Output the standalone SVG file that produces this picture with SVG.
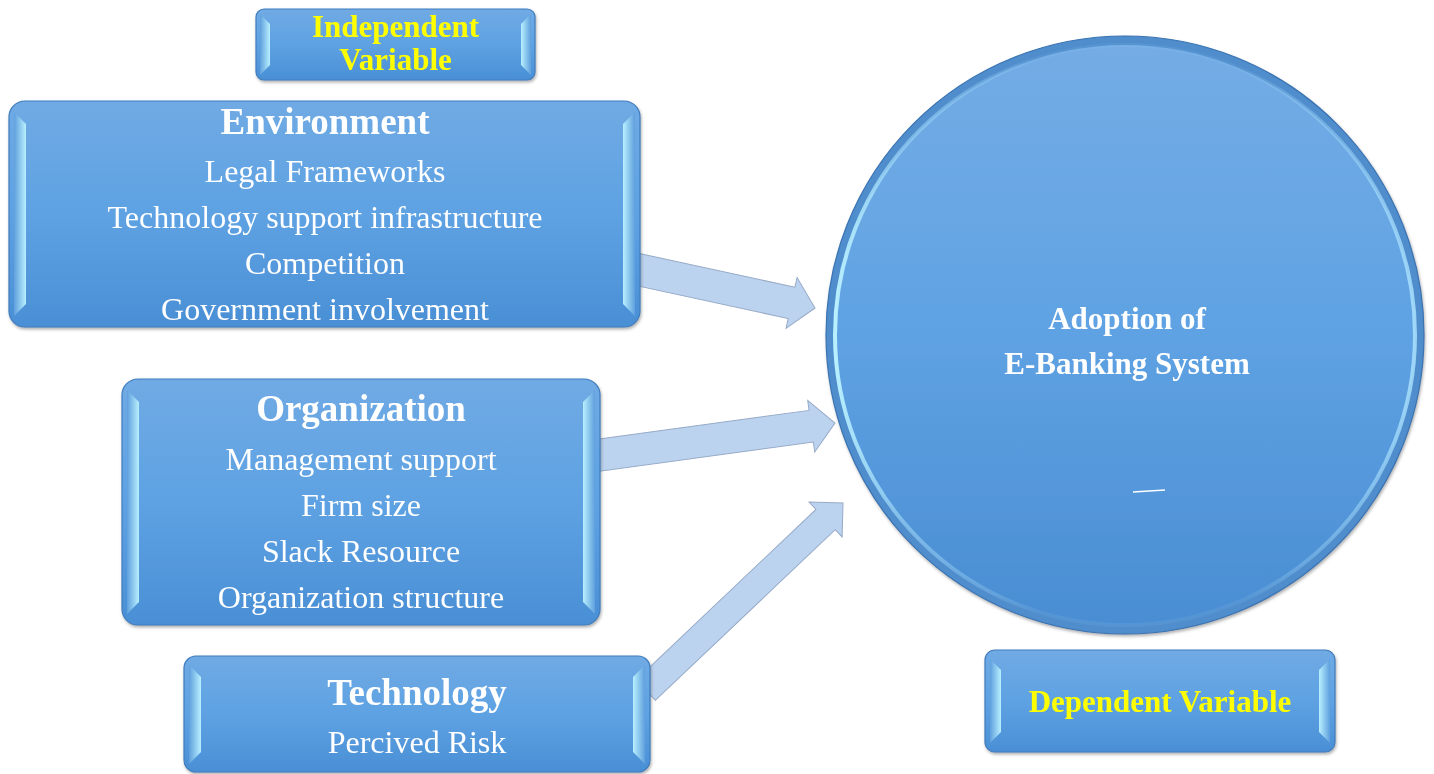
<svg xmlns="http://www.w3.org/2000/svg" width="1434" height="774" viewBox="0 0 1434 774">
<defs>
  <linearGradient id="face" x1="0" y1="0" x2="0" y2="1">
    <stop offset="0" stop-color="#70aae4"/>
    <stop offset="0.5" stop-color="#5ea2e3"/>
    <stop offset="1" stop-color="#4a8fd5"/>
  </linearGradient>
  <linearGradient id="bevL" x1="0" y1="0" x2="1" y2="0">
    <stop offset="0" stop-color="#5f9fdd"/>
    <stop offset="1" stop-color="#b8f0ff"/>
  </linearGradient>
  <linearGradient id="bevR" x1="1" y1="0" x2="0" y2="0">
    <stop offset="0" stop-color="#5f9fdd"/>
    <stop offset="1" stop-color="#b8f0ff"/>
  </linearGradient>
  <linearGradient id="circFace" x1="0" y1="0" x2="0" y2="1">
    <stop offset="0" stop-color="#74ace5"/>
    <stop offset="0.5" stop-color="#5fa2e3"/>
    <stop offset="1" stop-color="#4a8dd2"/>
  </linearGradient>
  <linearGradient id="ring" x1="0" y1="0" x2="1" y2="0">
    <stop offset="0" stop-color="#b8f0ff" stop-opacity="1"/>
    <stop offset="0.12" stop-color="#9fd8f8" stop-opacity="0.6"/>
    <stop offset="0.35" stop-color="#9fd8f8" stop-opacity="0.1"/>
    <stop offset="0.7" stop-color="#9fd8f8" stop-opacity="0.1"/>
    <stop offset="0.9" stop-color="#a8e0ff" stop-opacity="0.5"/>
    <stop offset="1" stop-color="#b0e6ff" stop-opacity="0.8"/>
  </linearGradient>
  <filter id="shadow" x="-5%" y="-5%" width="110%" height="115%">
    <feDropShadow dx="1" dy="2" stdDeviation="1.5" flood-color="#555" flood-opacity="0.45"/>
  </filter>
</defs>
<style>
  .box { fill: url(#face); stroke: #3f7dbd; stroke-width: 1.2; }
  .bl { fill: url(#bevL); }
  .br { fill: url(#bevR); }
  .arrow { fill: #bcd3f0; stroke: #96aac6; stroke-width: 1; }
  text { font-family: "Liberation Serif", "Times New Roman", serif; text-anchor: middle; }
  .title { font-size: 37px; font-weight: bold; fill: #ffffff; }
  .item { font-size: 32px; fill: #ffffff; }
  .yel { font-size: 31px; font-weight: bold; fill: #ffff00; }
  .cir { font-size: 31px; font-weight: bold; fill: #ffffff; }
</style>

<g id="connectors">
  <g transform="translate(815,308) rotate(12.25)">
    <polygon class="arrow" points="-185,-16 -24,-16 -24,-26 0,0 -24,26 -24,16 -185,16"/>
  </g>
  <g transform="translate(835,423) rotate(-7.75)">
    <polygon class="arrow" points="-245,-16 -24,-16 -24,-26 0,0 -24,26 -24,16 -245,16"/>
  </g>
  <g transform="translate(843,503) rotate(-43.5)">
    <polygon class="arrow" points="-272,-14 -24,-14 -24,-24 0,0 -24,24 -24,14 -272,14"/>
  </g>
</g>

<g id="independent" filter="url(#shadow)">
  <rect class="box" x="256" y="9" width="279" height="71" rx="8"/>
  <polygon class="bl" points="260,14 270,24 270,65 260,75"/>
  <polygon class="br" points="531,14 521,24 521,65 531,75"/>
  <text class="yel" x="395.5" y="37">Independent</text>
  <text class="yel" x="395.5" y="70">Variable</text>
</g>

<g id="environment" filter="url(#shadow)">
  <rect class="box" x="9" y="101" width="631" height="226" rx="16"/>
  <polygon class="bl" points="14,112 26,124 26,304 14,316"/>
  <polygon class="br" points="635,112 623,124 623,304 635,316"/>
  <text class="title" x="325" y="134">Environment</text>
  <text class="item" x="325" y="182">Legal Frameworks</text>
  <text class="item" x="325" y="228">Technology support infrastructure</text>
  <text class="item" x="325" y="274">Competition</text>
  <text class="item" x="325" y="320">Government involvement</text>
</g>

<g id="organization" filter="url(#shadow)">
  <rect class="box" x="122" y="379" width="478" height="246" rx="16"/>
  <polygon class="bl" points="127,390 139,402 139,602 127,614"/>
  <polygon class="br" points="595,390 583,402 583,602 595,614"/>
  <text class="title" x="361" y="421">Organization</text>
  <text class="item" x="361" y="470">Management support</text>
  <text class="item" x="361" y="516">Firm size</text>
  <text class="item" x="361" y="562">Slack Resource</text>
  <text class="item" x="361" y="608">Organization structure</text>
</g>

<g id="technology" filter="url(#shadow)">
  <rect class="box" x="184" y="656" width="466" height="116" rx="12"/>
  <polygon class="bl" points="189,665 201,677 201,752 189,764"/>
  <polygon class="br" points="645,665 633,677 633,752 645,764"/>
  <text class="title" x="417" y="705">Technology</text>
  <text class="item" x="417" y="753">Percived Risk</text>
</g>

<g id="adoption" filter="url(#shadow)">
  <circle cx="1125" cy="335" r="299" fill="#4f8dcd" stroke="#3a74b2" stroke-width="1.2"/>
  <circle cx="1125" cy="335" r="290" fill="url(#circFace)"/>
  <circle cx="1125" cy="335" r="290" fill="none" stroke="url(#ring)" stroke-width="4"/>
  <text class="cir" x="1127" y="329">Adoption of</text>
  <text class="cir" x="1127" y="374">E-Banking System</text>
  <path d="M1133,492 L1165,490" stroke="#ffffff" stroke-width="1.5" fill="none"/>
</g>

<g id="dependent" filter="url(#shadow)">
  <rect class="box" x="985" y="650" width="350" height="102" rx="10"/>
  <polygon class="bl" points="990,659 1001,670 1001,732 990,743"/>
  <polygon class="br" points="1330,659 1319,670 1319,732 1330,743"/>
  <text class="yel" x="1160" y="712">Dependent Variable</text>
</g>
</svg>
